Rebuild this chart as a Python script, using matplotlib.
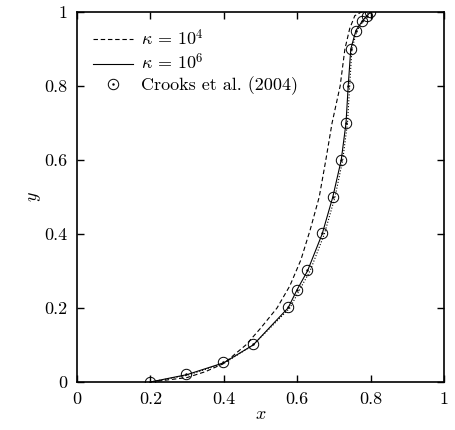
import matplotlib
matplotlib.use("Agg")
import matplotlib.pyplot as plt
from matplotlib.legend_handler import HandlerTuple

plt.rcParams['font.family'] = 'serif'
plt.rcParams['font.serif'] = ['cmr10', 'DejaVu Serif']
plt.rcParams['mathtext.fontset'] = 'cm'
plt.rcParams['axes.formatter.use_mathtext'] = True

# kappa = 1e4 (dashed)
x_k4 = [0.2, 0.3, 0.35, 0.4, 0.46, 0.5, 0.545, 0.58, 0.61, 0.635, 0.66, 0.678, 0.695, 0.717, 0.73, 0.743, 0.757, 0.775, 0.79]
y_k4 = [0.0, 0.012, 0.028, 0.05, 0.1, 0.145, 0.2, 0.26, 0.33, 0.41, 0.5, 0.6, 0.7, 0.8, 0.9, 0.955, 0.99, 1.0, 1.0]

# kappa = 1e6 (solid)
x_k6 = [0.2, 0.3, 0.4, 0.48, 0.575, 0.6, 0.628, 0.668, 0.697, 0.72, 0.733, 0.739, 0.746, 0.76, 0.777, 0.79, 0.8]
y_k6 = [0.0, 0.02, 0.052, 0.1, 0.2, 0.25, 0.3, 0.4, 0.5, 0.6, 0.7, 0.8, 0.9, 0.95, 0.975, 0.99, 1.0]

# unlabelled dotted curve
x_dot = [0.2, 0.3, 0.4, 0.48, 0.58, 0.607, 0.635, 0.674, 0.703, 0.724, 0.737, 0.743, 0.749, 0.763, 0.78, 0.795]
y_dot = [0.0, 0.018, 0.05, 0.1, 0.2, 0.25, 0.3, 0.4, 0.5, 0.6, 0.7, 0.8, 0.9, 0.95, 0.975, 1.0]

# Crooks et al. (2004)
x_crooks = [0.2, 0.297, 0.398, 0.48, 0.575, 0.6, 0.628, 0.668, 0.697, 0.719, 0.733, 0.738, 0.746, 0.76, 0.776, 0.79, 0.798]
y_crooks = [0.0, 0.022, 0.054, 0.103, 0.203, 0.249, 0.303, 0.403, 0.5, 0.6, 0.7, 0.8, 0.9, 0.95, 0.975, 0.99, 1.0]

ticks = [0, 0.2, 0.4, 0.6, 0.8, 1]
tick_labels = ['0', '0.2', '0.4', '0.6', '0.8', '1']

fig = plt.figure(figsize=(4.56, 4.30), dpi=100)
ax = fig.add_axes([77/456, 1 - 382/430, 367/456, 370/430])

l4, = ax.plot(x_k4, y_k4, 'k--', lw=0.8, dashes=(4, 2.5))
l6, = ax.plot(x_k6, y_k6, 'k-', lw=0.8)
ax.plot(x_dot, y_dot, 'k:', lw=0.8)
circ, = ax.plot(x_crooks, y_crooks, 'o', mfc='none', mec='k', mew=0.7, ms=7.5, ls='none')
dots, = ax.plot(x_crooks, y_crooks, '.', color='k', ms=1.5, ls='none')

ax.set_xlim(0, 1)
ax.set_ylim(0, 1)
ax.set_xticks(ticks)
ax.set_xticklabels(tick_labels)
ax.set_yticks(ticks)
ax.set_yticklabels(tick_labels)
ax.tick_params(direction='in', top=True, right=True, length=5, width=1.0, labelsize=13, pad=7)
for s in ax.spines.values():
    s.set_linewidth(1.2)

ax.set_xlabel('$x$', fontsize=13, labelpad=0)
ax.set_ylabel('$y$', fontsize=13, labelpad=1)

ax.legend([l4, l6, (circ, dots)],
          [r'$\kappa\,=\,10^4$', r'$\kappa\,=\,10^6$', 'Crooks et al. (2004)'],
          handler_map={tuple: HandlerTuple(ndivide=1, pad=0)},
          loc='upper left', frameon=False, fontsize=13, handlelength=2.2,
          handletextpad=0.45, labelspacing=0.2, borderaxespad=0.5)

fig.savefig('out.png', dpi=100)
